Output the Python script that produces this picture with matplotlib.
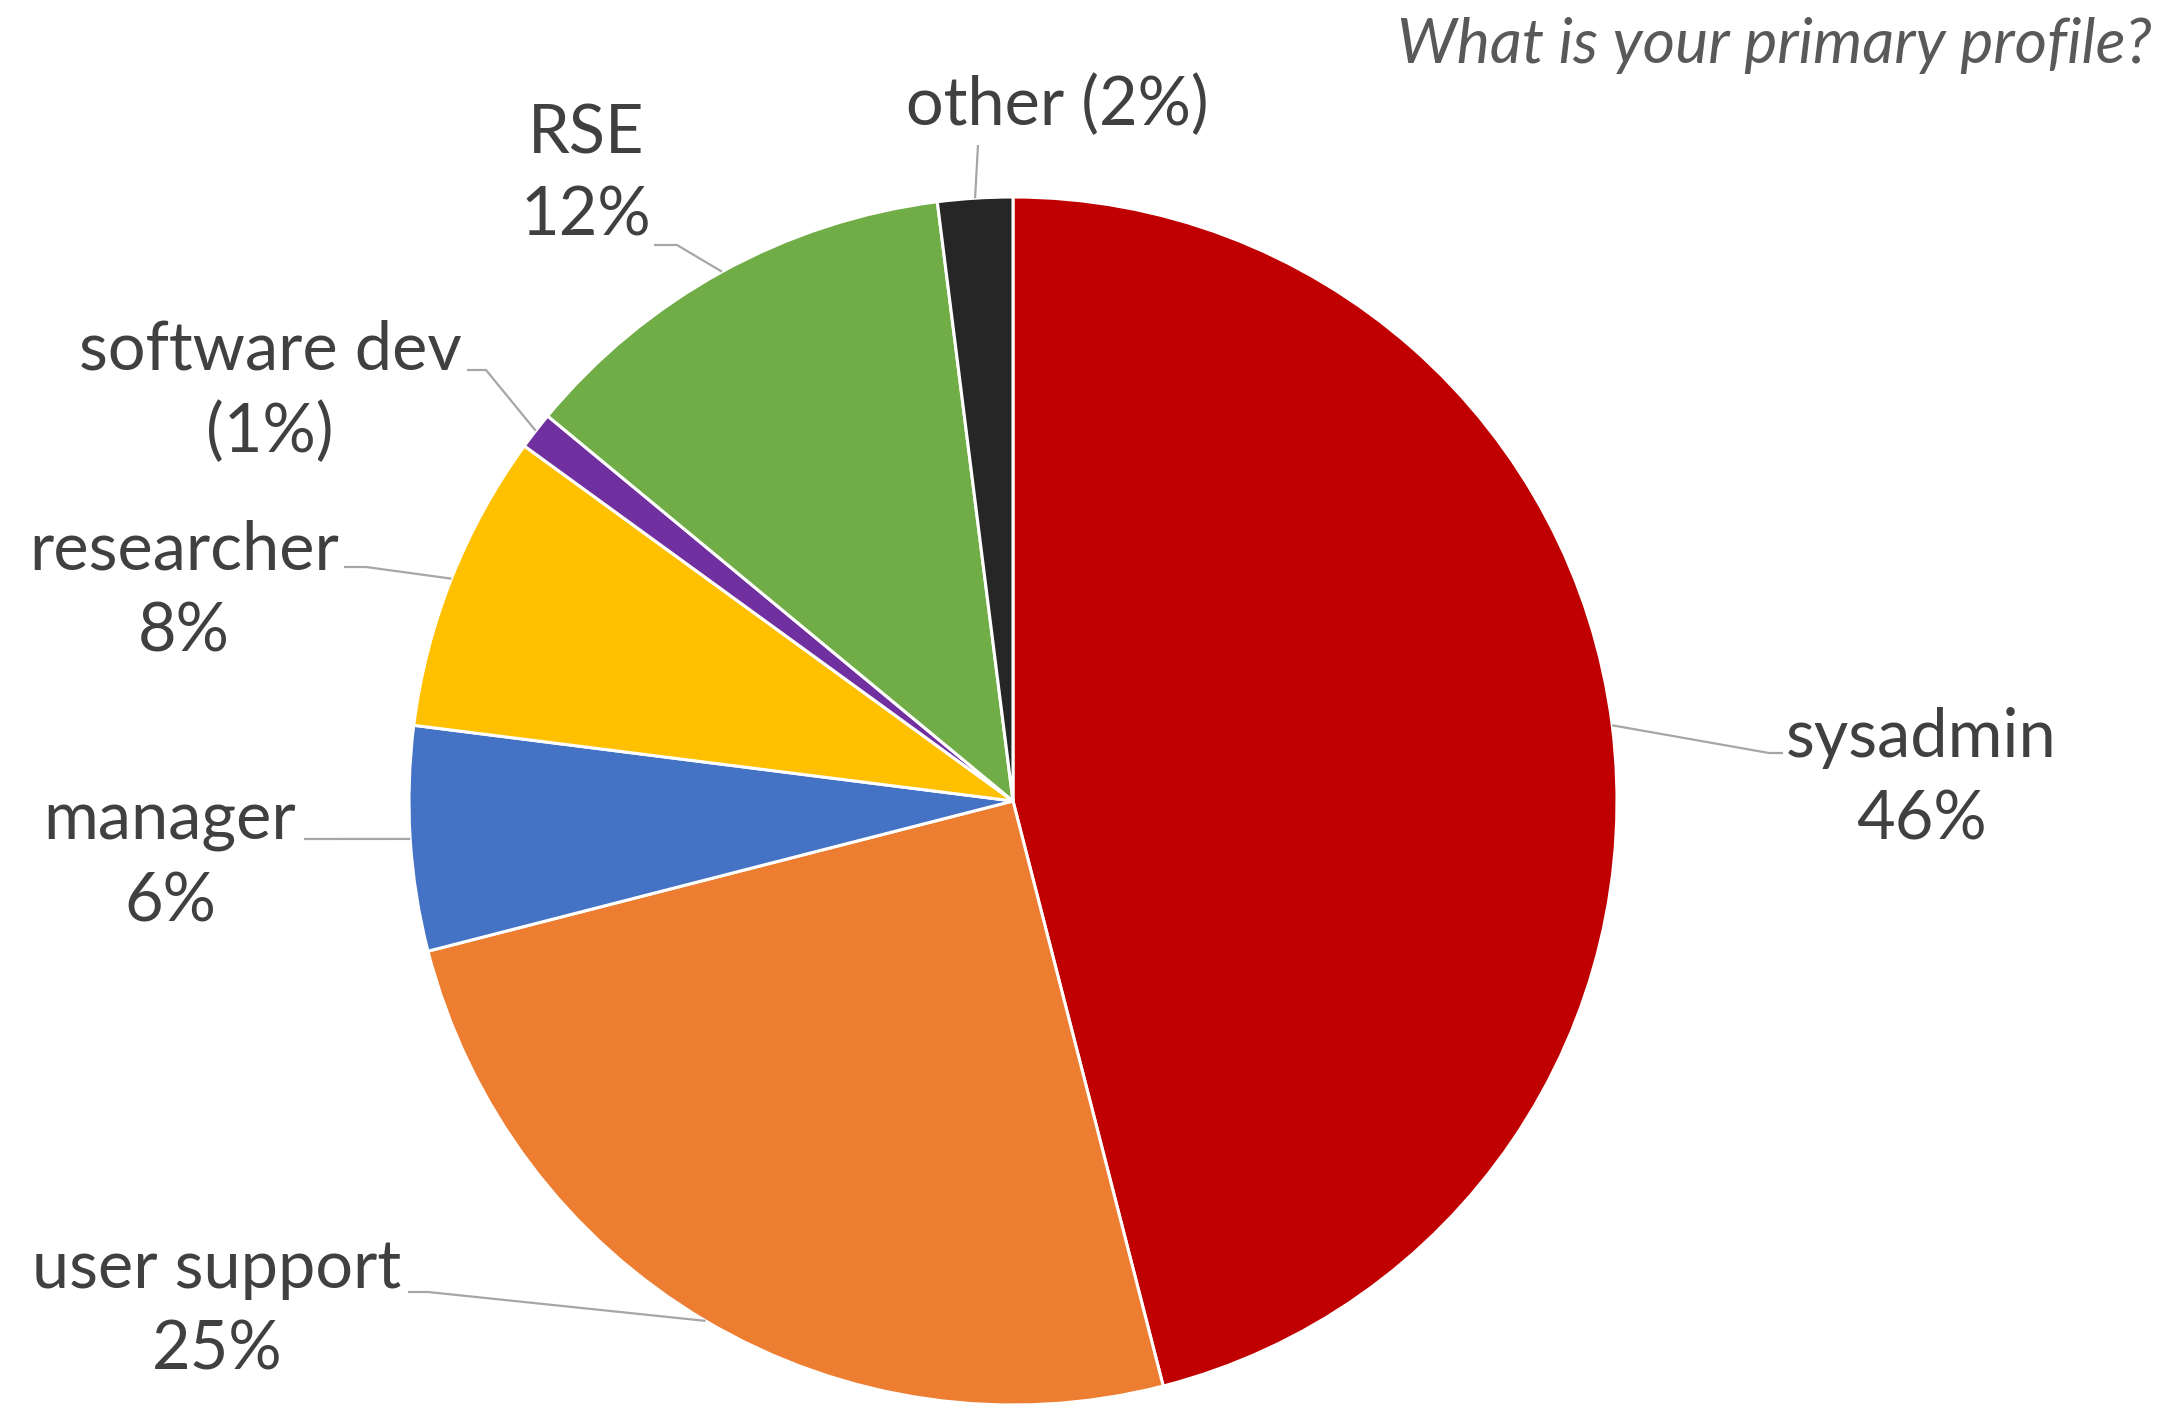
import numpy as np
import matplotlib
matplotlib.use("Agg")
import matplotlib.pyplot as plt

# ---- data ----
categories = ["sysadmin", "user support", "manager", "researcher", "software dev", "RSE", "other"]
values = [46, 25, 6, 8, 1, 12, 2]
label_texts = ["sysadmin\n46%", "user support\n25%", "manager\n6%", "researcher\n8%",
               "software dev\n(1%)", "RSE\n12%", "other (2%)"]
colors = ["#C00000", "#ED7D31", "#4472C4", "#FFC000", "#7030A0", "#70AD47", "#262626"]
title = "What is your primary profile?"

# ---- layout (pixel coordinates, y measured from top) ----
W, H = 2167, 1407
cx, cy, R = 1013, 801, 604
label_pos = [(1921, 779), (217, 1310), (170, 862), (184, 591), (270, 392), (586, 176), (1057, 106)]
elbow_pos = [(1769, 753), (428, 1292), None, (366, 567), (486, 370), (677, 245), None]
end_pos = [(1783, 753), (408, 1292), (304, 839), (344, 567), (467, 370), (654, 245), (978, 145)]

plt.rcParams['font.family'] = ['Lato', 'DejaVu Sans']
fig = plt.figure(figsize=(W / 100, H / 100), dpi=100)
ax = fig.add_axes([0, 0, 1, 1])

ax.pie(values, colors=colors, startangle=90, counterclock=False,
       center=(cx, H - cy), radius=R, frame=True,
       wedgeprops=dict(edgecolor="white", linewidth=2.2))
ax.set_xlim(0, W)
ax.set_ylim(0, H)
ax.set_aspect('equal')
ax.axis('off')

total = sum(values)
cum = 0
line_color = "#A6A6A6"
text_color = "#404040"
for i, v in enumerate(values):
    mid = 90 - 360 * (cum + v / 2) / total
    cum += v
    px = cx + R * np.cos(np.radians(mid))
    py = cy - R * np.sin(np.radians(mid))
    pts = [(px, py)]
    if elbow_pos[i] is not None:
        pts.append(elbow_pos[i])
    pts.append(end_pos[i])
    xs = [p[0] for p in pts]
    ys = [H - p[1] for p in pts]
    ax.plot(xs, ys, color=line_color, lw=1.6, solid_capstyle='butt', zorder=1)
    lx, ly = label_pos[i]
    ax.text(lx, H - ly, label_texts[i], ha='center', va='center', multialignment='center',
            fontsize=48, color=text_color, linespacing=1.4)

ax.text(2152, H - 46, title, ha='right', va='center', fontsize=45, style='italic',
        color="#595959")

fig.savefig("out.png", dpi=100)
